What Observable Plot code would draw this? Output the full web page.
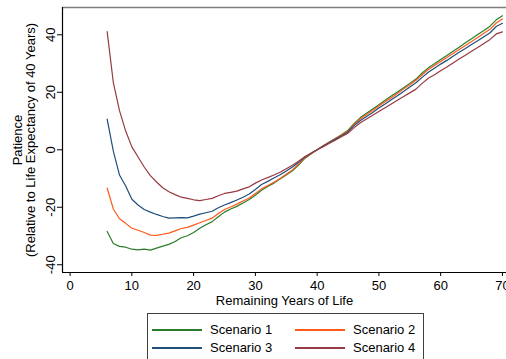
<!DOCTYPE html>
<html><head><meta charset="utf-8">
<script src="https://cdn.jsdelivr.net/npm/d3@7"></script>
<script src="https://cdn.jsdelivr.net/npm/@observablehq/plot@0.6"></script>
<style>
html,body{margin:0;padding:0;overflow:hidden;background:#fff;}
body{font-family:"Liberation Sans",Arial,sans-serif;width:506px;height:359px;position:relative;}
#legend{position:absolute;left:147px;top:313px;width:277px;height:48px;border:1px solid #404040;box-sizing:border-box;font-size:13px;color:#000;}
.item{position:absolute;height:16px;}
.item .sw{position:absolute;top:7px;left:0;width:50px;height:2px;}
.item .lb{position:absolute;left:58px;top:0;white-space:nowrap;line-height:16px;}
</style></head><body><div id="chart"></div><div id="legend"></div>
<script>
const years = [6,7,8,9,10,11,12,13,14,15,16,17,18,19,20,21,22,23,24,25,26,27,28,29,30,31,32,33,34,35,36,37,38,39,40,41,42,43,44,45,46,47,48,49,50,51,52,53,54,55,56,57,58,59,60,61,62,63,64,65,66,67,68,69,70];
const scenario1 = [-28.4,-32.6,-33.6,-33.9,-34.6,-34.8,-34.6,-34.9,-34.2,-33.5,-32.9,-31.9,-30.6,-29.9,-28.8,-27.3,-26.1,-25.0,-23.3,-21.7,-20.6,-19.7,-18.5,-17.3,-15.8,-14.1,-12.8,-11.6,-10.2,-8.8,-7.3,-5.3,-3.0,-1.5,0.0,1.4,2.7,4.0,5.3,6.8,9.2,11.2,12.7,14.2,15.7,17.2,18.7,20.1,21.6,23.1,24.6,26.7,28.5,29.9,31.4,32.8,34.3,35.7,37.2,38.6,40.1,41.5,43.0,45.2,46.6];
const scenario2 = [-13.3,-20.6,-24.0,-25.6,-27.3,-28.0,-28.8,-29.7,-29.8,-29.4,-29.0,-28.2,-27.4,-27.0,-26.2,-25.4,-24.6,-23.8,-22.2,-20.8,-19.9,-18.9,-17.8,-16.8,-15.2,-13.6,-12.4,-11.3,-10.0,-8.5,-7.0,-5.0,-2.8,-1.4,0.0,1.4,2.7,3.9,5.1,6.5,8.8,10.8,12.3,13.7,15.2,16.7,18.1,19.6,21.1,22.6,24.2,26.1,27.9,29.3,30.7,32.1,33.5,34.9,36.3,37.7,39.1,40.5,41.9,44.1,45.5];
const scenario3 = [10.7,-0.5,-8.8,-12.6,-17.2,-19.2,-20.8,-21.7,-22.5,-23.2,-23.8,-23.7,-23.6,-23.7,-23.1,-22.4,-21.9,-21.4,-20.2,-19.2,-18.4,-17.5,-16.5,-15.4,-13.8,-12.1,-11.0,-9.8,-8.7,-7.4,-6.0,-4.4,-2.5,-1.2,0.0,1.3,2.5,3.7,4.9,6.2,8.4,10.2,11.6,13.0,14.5,15.9,17.4,18.8,20.3,21.8,23.3,25.2,27.0,28.4,29.8,31.1,32.5,33.9,35.2,36.6,37.9,39.3,40.7,42.9,44.0];
const scenario4 = [41.1,23.4,13.6,6.5,1.0,-2.5,-6.0,-9.0,-11.2,-13.2,-14.6,-15.6,-16.5,-16.9,-17.4,-17.7,-17.3,-16.9,-16.0,-15.2,-14.8,-14.4,-13.6,-12.9,-11.6,-10.5,-9.7,-8.8,-7.8,-6.6,-5.4,-4.0,-2.4,-1.2,0.0,1.1,2.3,3.4,4.6,5.8,7.7,9.4,10.7,12.0,13.3,14.6,15.9,17.2,18.5,19.8,21.1,23.1,24.9,26.1,27.5,28.8,30.2,31.6,32.9,34.3,35.6,37.0,38.4,40.3,41.0];
const seriesNames = ["Scenario 1","Scenario 2","Scenario 3","Scenario 4"];
const seriesColors = ["#2a7d2a","#ff5a1a","#1f4e79","#963a43"];
const xTicks = [0,10,20,30,40,50,60,70];
const yTicks = [-40,-20,0,20,40];
const xTitle = "Remaining Years of Life";
const yTitle1 = "Patience";
const yTitle2 = "(Relative to Life Expectancy of 40 Years)";

const allSeries = [scenario1, scenario2, scenario3, scenario4];
const data = [];
allSeries.forEach((vals, s) => vals.forEach((v, i) => data.push({year: years[i], value: v, series: seriesNames[s]})));

const xDomain = [-1.23, 70.66];
const yDomain = [-42.7, 49.5];

const chart = Plot.plot({
  width: 506, height: 310,
  marginLeft: 62, marginRight: 0, marginTop: 7, marginBottom: 38,
  x: {domain: xDomain},
  y: {domain: yDomain},
  color: {domain: seriesNames, range: seriesColors},
  style: {fontFamily: "'Liberation Sans', Arial, sans-serif", fontSize: "13px", color: "#000", background: "#fff", overflow: "hidden"},
  marks: [
    Plot.ruleY([yDomain[1]], {stroke: "#808080", strokeWidth: 1.6}),
    Plot.line(data, {x: "year", y: "value", z: "series", stroke: "series", strokeWidth: 1.2}),
    Plot.ruleX([xDomain[0]], {stroke: "#000", strokeWidth: 1.2}),
    Plot.ruleY([yDomain[0]], {stroke: "#000", strokeWidth: 1.2}),
    Plot.axisX({ticks: xTicks, tickSize: 4, tickPadding: 4, tickFormat: d => String(d), label: null, fontSize: 13}),
    Plot.axisY({ticks: yTicks, tickSize: 5, tickFormat: () => "", label: null}),
    Plot.text(yTicks, {x: xDomain[0], y: d => d, text: d => String(d), rotate: -90, dx: -12, textAnchor: "middle", lineAnchor: "middle", fontSize: 13}),
    Plot.text([yTitle1], {frameAnchor: "left", text: d => d, rotate: -90, dx: -45, textAnchor: "middle", lineAnchor: "middle", fontSize: 13}),
    Plot.text([yTitle2], {frameAnchor: "left", text: d => d, rotate: -90, dx: -32, textAnchor: "middle", lineAnchor: "middle", fontSize: 13}),
    Plot.text([xTitle], {frameAnchor: "bottom", text: d => d, dy: 28, lineAnchor: "middle", fontSize: 13})
  ]
});
document.getElementById("chart").appendChild(chart);

const legend = document.getElementById("legend");
const pos = [[4, 8], [147, 8], [4, 26], [147, 26]];
seriesNames.forEach((name, i) => {
  const it = document.createElement("div");
  it.className = "item";
  it.style.left = pos[i][0] + "px";
  it.style.top = pos[i][1] + "px";
  const sw = document.createElement("div");
  sw.className = "sw";
  sw.style.backgroundColor = seriesColors[i];
  const lb = document.createElement("div");
  lb.className = "lb";
  lb.textContent = name;
  it.appendChild(sw);
  it.appendChild(lb);
  legend.appendChild(it);
});
</script></body></html>
